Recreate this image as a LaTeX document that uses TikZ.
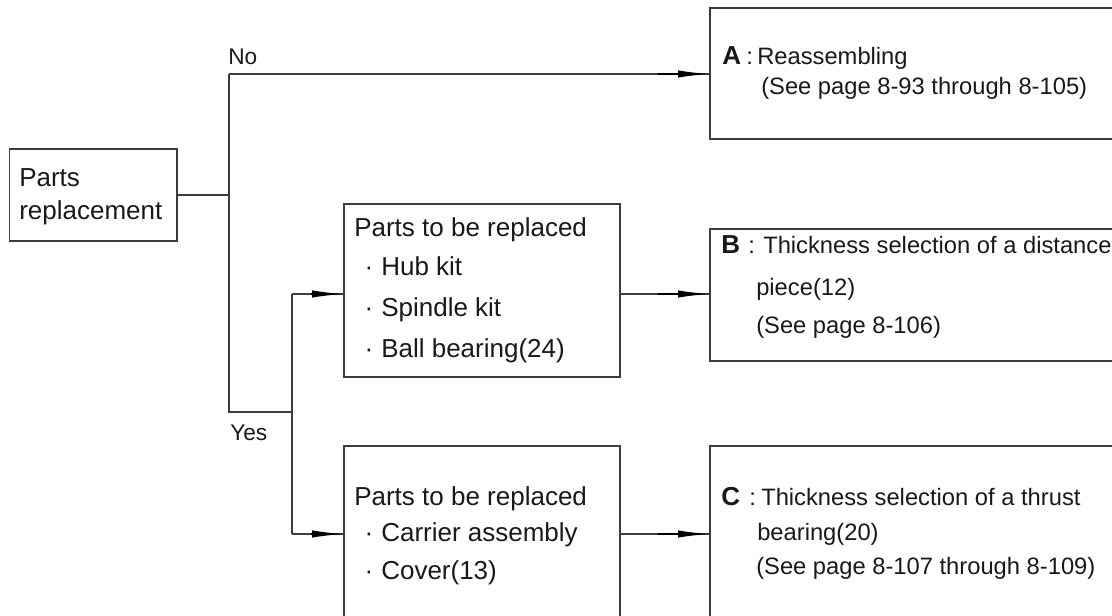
\documentclass[tikz,border=0pt]{standalone}
\usepackage{fontspec}
\setmainfont{Liberation Sans}
\usetikzlibrary{arrows.meta,calc}
\definecolor{ln}{RGB}{60,60,60}
\definecolor{tx}{RGB}{25,25,25}
\begin{document}
\begin{tikzpicture}[x=0.75pt,y=-0.75pt,
  box/.style={draw=ln,line width=1pt,inner sep=0pt,outer sep=0pt,anchor=north west},
  conn/.style={draw=ln,line width=0.9pt},
  tiparrow/.style={draw=black,line width=1.3pt,-{Latex[length=24pt,width=5.5pt]}},
  rtxt/.style={font=\fontsize{17.8pt}{20pt}\selectfont,text=tx,anchor=base west,inner sep=0pt},
  rlet/.style={font=\fontsize{19.5pt}{22pt}\selectfont\bfseries,text=tx,anchor=base west,inner sep=0pt},
  ptxt/.style={font=\fontsize{19.5pt}{22pt}\selectfont,text=tx,anchor=base west,inner sep=0pt},
  lbl/.style={font=\fontsize{17pt}{20pt}\selectfont,text=tx,anchor=base west,inner sep=0pt},
  bul/.style={ptxt,anchor=base}]
\useasboundingbox (0,0) rectangle (1112,616);
\clip (0,0) rectangle (1112,616);
\fill[white] (0,0) rectangle (1112,616);

% boxes
\node[box,minimum width=125.6pt,minimum height=69pt] (pr) at (9.5,149) {};
\node[box,minimum width=207pt,minimum height=129.75pt] (p1) at (344,204) {};
\node[box,minimum width=207pt,minimum height=150pt] (p2) at (344,446) {};
\node[box,minimum width=322.5pt,minimum height=98.25pt] (a) at (710,8) {};
\node[box,minimum width=322.5pt,minimum height=99pt] (b) at (710,229) {};
\node[box,minimum width=322.5pt,minimum height=150pt] (c) at (710,446) {};

% junctions
\coordinate (ja) at (229,74);
\coordinate (jy) at (229,412);
\coordinate (k1) at (292,294);
\coordinate (k2) at (292,534);

% connectors
\draw[conn] (pr.east) -- (pr.east -| ja);
\draw[conn] (ja) -- (jy) -- (jy -| k1);
\draw[conn] (k1) -- (k2);
\draw[conn] (ja) -- (ja -| a.west);
\draw[tiparrow] ($(ja -| a.west)+(-52,0)$) -- (ja -| a.west);
\draw[conn] (k1) -- (k1 -| p1.west);
\draw[tiparrow] ($(k1 -| p1.west)+(-33,0)$) -- (k1 -| p1.west);
\draw[conn] (p1.east |- k1) -- (k1 -| b.west);
\draw[tiparrow] ($(k1 -| b.west)+(-52,0)$) -- (k1 -| b.west);
\draw[conn] (k2) -- (k2 -| p2.west);
\draw[tiparrow] ($(k2 -| p2.west)+(-33,0)$) -- (k2 -| p2.west);
\draw[conn] (p2.east |- k2) -- (k2 -| c.west);
\draw[tiparrow] ($(k2 -| c.west)+(-52,0)$) -- (k2 -| c.west);

% labels
\node[lbl] (no) at (228,65) {No};
\node[lbl] (yes) at (230,440) {Yes};

% parts replacement
\node[ptxt] (prt1) at (19,187) {Parts};
\node[ptxt] (prt2) at (19,220) {replacement};

% upper parts box
\node[ptxt] (p1t) at (354,237) {Parts to be replaced};
\node[bul] (p1d1) at (369,276) {·};
\node[ptxt] (p1i1) at (381,276) {Hub kit};
\node[bul] (p1d2) at (369,316) {·};
\node[ptxt] (p1i2) at (381,316) {Spindle kit};
\node[bul] (p1d3) at (369,357) {·};
\node[ptxt] (p1i3) at (381,357) {Ball bearing(24)};

% lower parts box
\node[ptxt] (p2t) at (354,505) {Parts to be replaced};
\node[bul] (p2d1) at (369,541) {·};
\node[ptxt] (p2i1) at (381,541) {Carrier assembly};
\node[bul] (p2d2) at (369,579) {·};
\node[ptxt] (p2i2) at (381,579) {Cover(13)};

% A box
\node[rlet] (al) at (722,65) {A};
\node[rtxt] (ac) at (746,65) {:};
\node[rtxt] (a1) at (757,65) {Reassembling};
\node[rtxt] (a2) at (761,95) {(See page 8-93 through 8-105)};

% B box
\node[rlet] (bl) at (721,254) {B};
\node[rtxt] (bc) at (748,254) {:};
\node[rtxt] (b1) at (763,254) {Thickness selection of a distance};
\node[rtxt] (b2) at (756,296) {piece(12)};
\node[rtxt] (b3) at (756,333) {(See page 8-106)};

% C box
\node[rlet] (cl) at (721,505) {C};
\node[rtxt] (cc) at (749,505) {:};
\node[rtxt] (c1) at (761,505) {Thickness selection of a thrust};
\node[rtxt] (c2) at (757,540) {bearing(20)};
\node[rtxt] (c3) at (756,574) {(See page 8-107 through 8-109)};
\end{tikzpicture}
\end{document}
